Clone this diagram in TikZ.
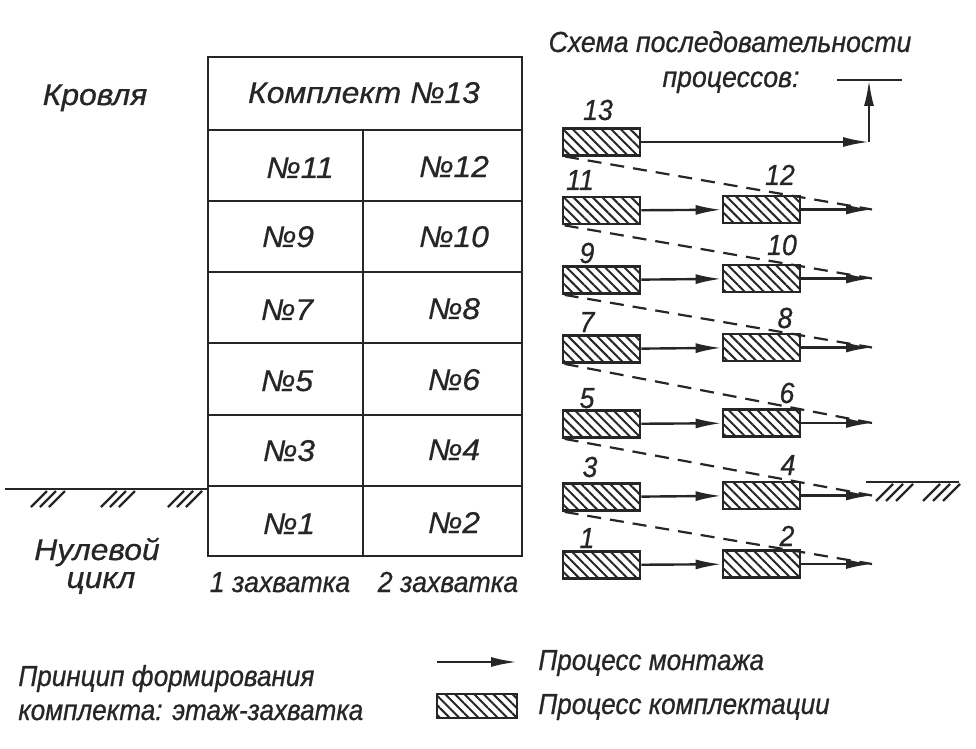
\documentclass[tikz,border=0pt]{standalone}
\usepackage{fontspec}
\setmainfont{Liberation Sans}[ItalicFeatures={FakeStretch=0.92,FakeBold=0.7}]
\newfontfamily\tableface{Liberation Sans}[ItalicFeatures={FakeStretch=1.06,FakeBold=0.7}]
\newfontfamily\keyface{Liberation Sans}[ItalicFeatures={FakeStretch=0.9,FakeBold=0.7}]
\usepackage{tikz}
\usetikzlibrary{arrows.meta,patterns.meta}
\newcommand{\lblfont}{\itshape\fontsize{14.5}{17}\selectfont}
\newcommand{\cellfont}{\tableface\itshape\fontsize{15}{18}\selectfont}
\newcommand{\keyfont}{\keyface\itshape\fontsize{14.5}{17}\selectfont}

\begin{document}
\begin{tikzpicture}[
  x=0.5pt, y=-0.5pt,
  cell/.style={draw=black!85, line width=1.1pt},
  proc/.style={draw=black!85, line width=1.4pt, inner sep=0pt,
               minimum width=38.5pt, minimum height=13.5pt,
               pattern={Lines[angle=-45,distance=3.4pt,line width=1pt]},
               pattern color=black!85},
  mount/.style={draw=black!85, line width=1.2pt, -{Latex[length=13pt,width=5pt]}},
  link/.style={draw=black!85, line width=1.1pt, dash pattern=on 7pt off 4.5pt},
  ground/.style={draw=black!85, line width=1.2pt},
  every node/.style={font=\lblfont, text=black!85, inner sep=0pt}]

\useasboundingbox (0,0) rectangle (976,749);

% ================= building: floors and grips ===============================
\draw[cell] (208,57) rectangle (522,556);
\foreach \y in {130,201,272,343,415,486}
  {\draw[cell] (208,\y) -- (522,\y);}
\draw[cell] (363,130) -- (363,556);

\node[anchor=base, font=\cellfont] (k13) at (364,103) {Комплект №13};
\foreach \n/\x/\y in {11/300/178, 9/288/247, 7/287/320, 5/287/391, 3/289/461, 1/289/534}
  {\node[anchor=base, font=\cellfont] (k\n) at (\x,\y) {№\n};}
\foreach \n/\y in {12/177, 10/247, 8/319, 6/390, 4/460, 2/533}
  {\node[anchor=base, font=\cellfont] (k\n) at (454,\y) {№\n};}

\node[anchor=base, font=\cellfont] (roof) at (95,105) {Кровля};
\node[anchor=base, font=\cellfont] (zero1) at (97,560) {Нулевой};
\node[anchor=base, font=\cellfont] (zero2) at (101,588) {цикл};
\node[anchor=base] (grip1) at (280,592) {1 захватка};
\node[anchor=base] (grip2) at (448,592) {2 захватка};

% ground level, left and right
\draw[ground] (5,489) -- (208,489);
\foreach \gx in {47,117,184}
  \foreach \d in {0,9,18}
    {\draw[ground] (\gx+\d,491) -- (\gx+\d-16,507);}
\draw[ground] (866,482) -- (959,482);
\foreach \gx in {893,940}
  \foreach \d in {0,10,20}
    {\draw[ground] (\gx+\d,484) -- (\gx+\d-17,501);}

% ================= sequence of processes ====================================
\node[anchor=base] (title1) at (730,52) {Схема последовательности};
\node[anchor=base] (title2) at (731,87) {процессов:};

% left grip boxes (odd sets), right grip boxes (even sets)
\foreach \n/\y in {13/142, 11/210.5, 9/280, 7/349, 5/424, 3/497, 1/565}
  {\node[proc] (b\n) at (601.5,\y) {};}
\foreach \n/\y in {12/209.5, 10/278.5, 8/347.5, 6/423, 4/495.5, 2/564}
  {\node[proc] (b\n) at (761.5,\y) {};
   \coordinate (e\n) at (872,\y);}

\foreach \n/\x/\y in {13/598/120, 11/580/190, 9/587/263, 7/587/332, 5/587/408,
                      3/590/477, 1/587/548, 12/780/185, 10/782/255, 8/785/328,
                      6/787/403, 4/788/475, 2/787/546}
  {\node[anchor=base] (l\n) at (\x,\y) {\n};}

\foreach \a/\b in {11/12, 9/10, 7/8, 5/6, 3/4, 1/2}
  {\draw[mount] (b\a) -- (b\b);
   \draw[mount] (b\b) -- (e\b);}

\foreach \a/\b in {13/12, 11/10, 9/8, 7/6, 5/4, 3/2}
  {\draw[link] ([xshift=1.5pt]b\a.south west) -- (e\b);}

% set 13 goes up to the roof
\coordinate (c13) at (869,142);
\coordinate (t13) at (869,80);
\draw[mount] (b13) -- (c13);
\draw[mount] (c13) -- (t13);
\draw[ground] (837,80) -- (902,80);

% ================= legend ===================================================
\node[anchor=base west, font=\keyfont] (rule1) at (18,686) {Принцип формирования};
\node[anchor=base west, font=\keyfont] (rule2) at (18,720) {комплекта: этаж-захватка};

\coordinate (m0) at (437,662);
\coordinate (m1) at (517,662);
\draw[mount] (m0) -- (m1);
\node[anchor=base west, font=\keyfont] (lm) at (538,670) {Процесс монтажа};
\node[proc, minimum width=40pt, minimum height=12pt] (lk) at (477,706) {};
\node[anchor=base west, font=\keyfont] (lc) at (538,714) {Процесс комплектации};

\end{tikzpicture}
\end{document}
